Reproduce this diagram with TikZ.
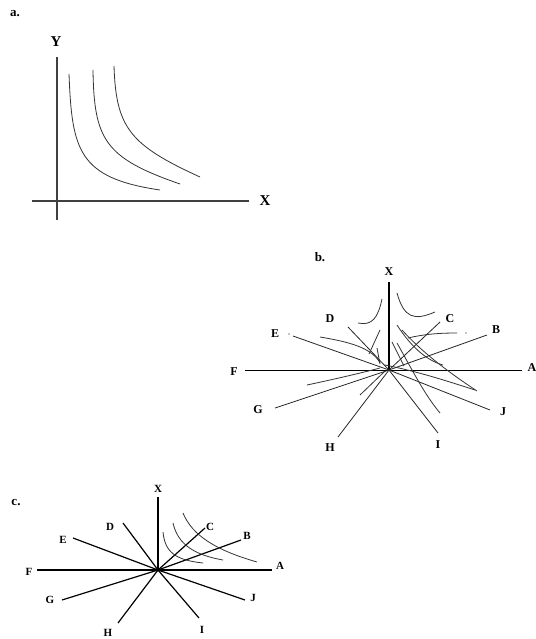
\documentclass[tikz,border=0pt]{standalone}
\usepackage{fontspec}
\setmainfont{Liberation Serif}
\usepackage{tikz}
\usetikzlibrary{positioning}

\begin{document}
\begin{tikzpicture}[
        x=1pt, y=-1pt,
        % 面板标题 (panel tag)
        tag/.style={font=\bfseries\fontsize{13}{15}\selectfont, inner sep=0pt},
        % 坐标轴标签 (axis labels)
        axlab/.style={font=\bfseries\fontsize{15}{17}\selectfont, inner sep=0pt},
        blab/.style={font=\bfseries\fontsize{12}{14}\selectfont, inner sep=0pt},
        clab/.style={font=\bfseries\fontsize{11}{13}\selectfont, inner sep=0pt},
        % 线型 (line styles)
        axis/.style={draw=black!75, line width=1.3pt},
        curve/.style={draw=black!80, line width=0.8pt},
        ray/.style={draw=black!85, line width=0.8pt},
        cray/.style={draw=black, line width=1.2pt}
    ]
        \useasboundingbox (0,0) rectangle (535,639);

        % ====================
        % 面板 a (Panel a)
        % ====================
        \node[tag] (ta) at (15,14) {a.};
        \node[axlab] (aY) at (56,42) {Y};
        \node[axlab] (aX) at (265,201) {X};
        \coordinate (aYt) at (57,57);
        \coordinate (aYb) at (57,220);
        \coordinate (aXl) at (32,201);
        \coordinate (aXr) at (249,201);
        \draw[axis] (aYb) -- (aYt);
        \draw[axis] (aXl) -- (aXr);

        % 三条无差异曲线 (three curves)
        \draw[curve] (69,74) .. controls (72,150) and (78,178) .. (160,190);
        \draw[curve] (93,70) .. controls (94,140) and (105,158) .. (180,184);
        \draw[curve] (114,66) .. controls (116,128) and (130,145) .. (200,177);

        % ====================
        % 面板 b (Panel b)
        % ====================
        \node[tag] (tb) at (320,257) {b.};
        \coordinate (Ob) at (389,370);
        \node[blab] (bX) at (389,272) {X};
        \node[blab] (bA) at (532,368) {A};
        \node[blab] (bB) at (496,330) {B};
        \node[blab] (bC) at (450,319) {C};
        \node[blab] (bD) at (330,319) {D};
        \node[blab] (bE) at (275,334) {E};
        \node[blab] (bF) at (234,372) {F};
        \node[blab] (bG) at (258,410) {G};
        \node[blab] (bH) at (330,448) {H};
        \node[blab] (bI) at (438,445) {I};
        \node[blab] (bJ) at (503,412) {J};

        \coordinate (bXe) at (389,282);
        \coordinate (bFe) at (245,370);
        \coordinate (bAe) at (522,370);
        \coordinate (bBe) at (487,335);
        \coordinate (bCe) at (440,322);
        \coordinate (bDe) at (348,327);
        \coordinate (bEe) at (293,336);
        \coordinate (bGe) at (275,408);
        \coordinate (bHe) at (338,437);
        \coordinate (bIe) at (438,433);
        \coordinate (bJe) at (490,410);

        \draw[draw=black, line width=2pt] (Ob) -- (bXe);
        \draw[draw=black, line width=1pt] (bFe) -- (bAe);
        \draw[ray] (Ob) -- (bBe);
        \draw[ray] (Ob) -- (bCe);
        \draw[ray] (Ob) -- (bDe);
        \draw[ray] (Ob) -- (bEe);
        \draw[ray] (Ob) -- (bGe);
        \draw[ray] (Ob) -- (bHe);
        \draw[ray] (Ob) -- (bIe);
        \draw[ray] (Ob) -- (bJe);
        \fill (289,334) circle (0.7pt);
        \fill (466,333) circle (0.7pt);

        % 扇区内的曲线 (curves between the rays)
        \draw[curve] (382,299) .. controls (378,318) and (372,326) .. (358,323);
        \draw[curve] (397,293) .. controls (404,318) and (414,321) .. (435,312);
        \draw[curve] (320,337) .. controls (350,342) and (372,348) .. (380,363);
        \draw[curve] (380,330) -- (369,354);
        \draw[curve] (377,348) -- (380,364);
        \draw[curve] (397,325) .. controls (410,345) and (425,360) .. (443,365);
        \draw[curve] (402,330) .. controls (420,350) and (445,370) .. (477,391);
        \draw[curve] (392,342) -- (404,366);
        \draw[curve] (397,343) .. controls (415,375) and (425,395) .. (440,413);
        \draw[curve] (408,338) .. controls (425,334) and (440,333) .. (457,333);
        \draw[curve] (385,365) .. controls (420,372) and (450,382) .. (475,390);
        \draw[curve] (307,385) .. controls (340,378) and (365,372) .. (380,368);
        \draw[curve] (360,395) -- (384,372);

        % ====================
        % 面板 c (Panel c)
        % ====================
        \node[tag] (tc) at (16,503) {c.};
        \coordinate (Oc) at (158,570);
        \node[clab] (cX) at (158,489) {X};
        \node[clab] (cA) at (280,566) {A};
        \node[clab] (cB) at (247,536) {B};
        \node[clab] (cC) at (210,527) {C};
        \node[clab] (cD) at (110,527) {D};
        \node[clab] (cE) at (63,540) {E};
        \node[clab] (cF) at (29,572) {F};
        \node[clab] (cG) at (50,600) {G};
        \node[clab] (cH) at (108,633) {H};
        \node[clab] (cI) at (202,630) {I};
        \node[clab] (cJ) at (253,598) {J};

        \coordinate (cXe) at (158,497);
        \coordinate (cFe) at (37,570);
        \coordinate (cAe) at (272,570);
        \coordinate (cBe) at (241,540);
        \coordinate (cCe) at (205,528);
        \coordinate (cDe) at (123,523);
        \coordinate (cEe) at (73,538);
        \coordinate (cGe) at (62,600);
        \coordinate (cHe) at (118,623);
        \coordinate (cIe) at (199,618);
        \coordinate (cJe) at (245,600);

        \draw[cray, line width=1.5pt] (Oc) -- (cXe);
        \draw[cray, line width=1.5pt] (cFe) -- (cAe);
        \draw[cray] (Oc) -- (cBe);
        \draw[cray] (Oc) -- (cCe);
        \draw[cray] (Oc) -- (cDe);
        \draw[cray] (Oc) -- (cEe);
        \draw[cray] (Oc) -- (cGe);
        \draw[cray] (Oc) -- (cHe);
        \draw[cray] (Oc) -- (cIe);
        \draw[cray] (Oc) -- (cJe);
        \fill (Oc) circle (1.5pt);

        % 第一象限的三条曲线 (three curves in the quadrant)
        \draw[curve] (163,532) .. controls (165,552) and (175,560) .. (203,563);
        \draw[curve] (173,523) .. controls (178,545) and (195,555) .. (223,560);
        \draw[curve] (183,513) .. controls (192,535) and (215,550) .. (257,562);

\end{tikzpicture}
\end{document}
